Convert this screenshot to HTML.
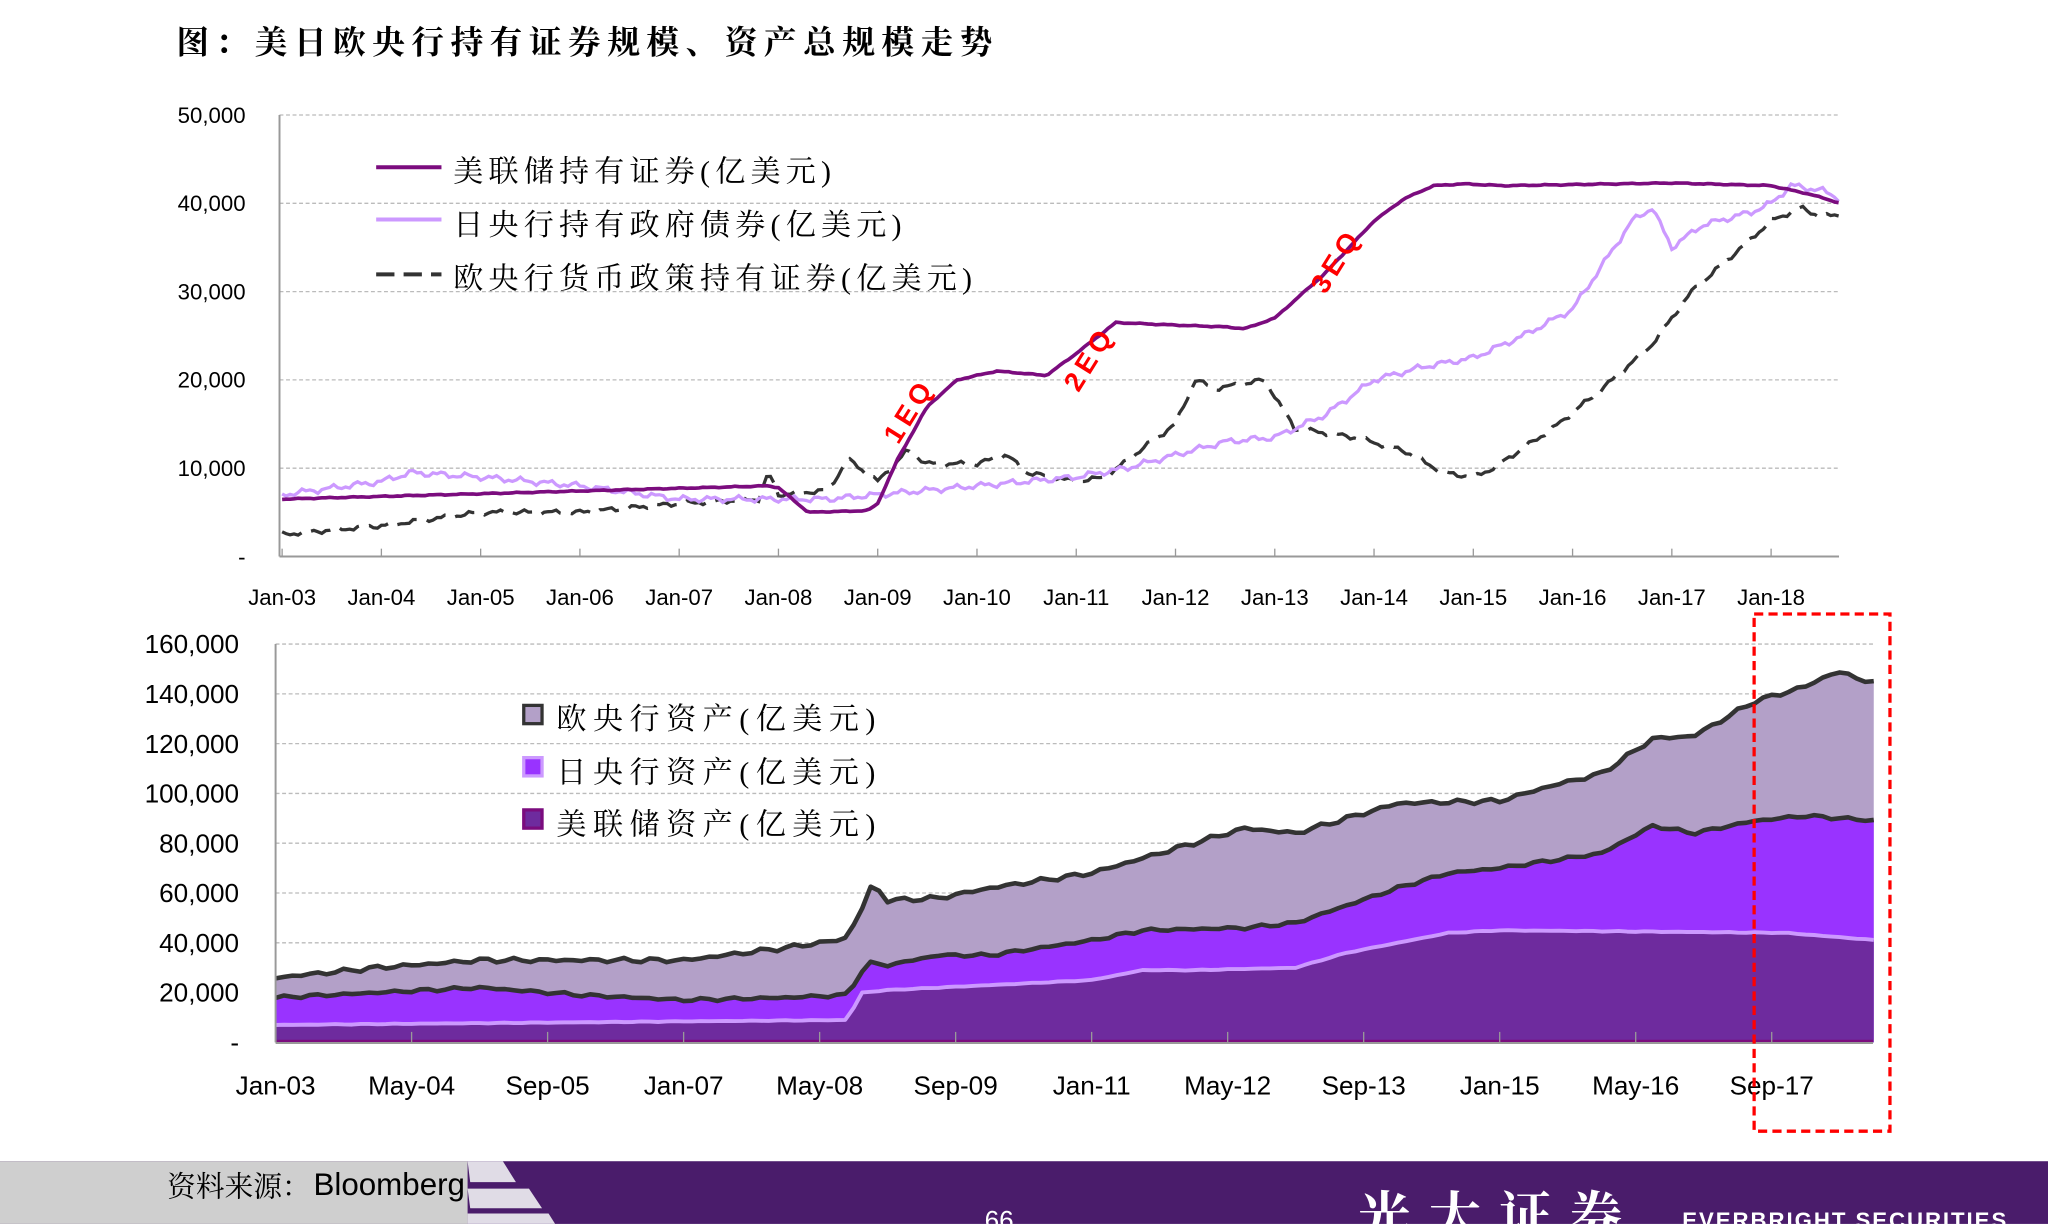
<!DOCTYPE html>
<html><head><meta charset="utf-8"><style>
html,body{margin:0;padding:0;background:#fff;width:2048px;height:1224px;overflow:hidden}
svg{display:block}
.s{font-family:"Liberation Serif","Noto Serif CJK SC",serif}
.a{font-family:"Liberation Sans","Noto Sans CJK SC",sans-serif}
</style></head><body>
<svg id="c" width="2048" height="1224" viewBox="0 0 1568 937" xmlns="http://www.w3.org/2000/svg">
<rect width="1568" height="937" fill="#fff"/>
<text x="135" y="41" class="s" font-size="25" font-weight="bold" fill="#000" letter-spacing="5">图：美日欧央行持有证券规模、资产总规模走势</text>
<g id="top"></g>
<g id="bot"></g>
<!-- legends top -->
<line x1="288" y1="128" x2="338" y2="128" stroke="#7b0c7e" stroke-width="3"/>
<text x="347" y="139" class="s" font-size="23" letter-spacing="4">美联储持有证券(亿美元)</text>
<line x1="288" y1="168" x2="338" y2="168" stroke="#cc99ff" stroke-width="3"/>
<text x="347" y="180" class="s" font-size="23" letter-spacing="4">日央行持有政府债券(亿美元)</text>
<line x1="288" y1="210" x2="338" y2="210" stroke="#333" stroke-width="3" stroke-dasharray="14,7"/>
<text x="347" y="221" class="s" font-size="23" letter-spacing="4">欧央行货币政策持有证券(亿美元)</text>
<!-- QE labels -->
<text transform="translate(702,318) rotate(-58)" text-anchor="middle" class="a" font-size="21" font-weight="bold" fill="#f00" letter-spacing="4">1EQ</text>
<text transform="translate(840,278) rotate(-58)" text-anchor="middle" class="a" font-size="21" font-weight="bold" fill="#f00" letter-spacing="4">2EQ</text>
<text transform="translate(1029,203) rotate(-58)" text-anchor="middle" class="a" font-size="21" font-weight="bold" fill="#f00" letter-spacing="4">3EQ</text>
<!-- legends bottom -->
<rect x="401" y="540" width="14" height="14" fill="#b3a0c8" stroke="#333" stroke-width="2.5"/>
<text x="426" y="558" class="s" font-size="23" letter-spacing="5">欧央行资产(亿美元)</text>
<rect x="401" y="580" width="14" height="14" fill="#9933ff" stroke="#cc99ff" stroke-width="2.5"/>
<text x="426" y="599" class="s" font-size="23" letter-spacing="5">日央行资产(亿美元)</text>
<rect x="401" y="620" width="14" height="14" fill="#6e2b9e" stroke="#7b0c7e" stroke-width="2.5"/>
<text x="426" y="639" class="s" font-size="23" letter-spacing="5">美联储资产(亿美元)</text>
<rect x="1343" y="470" width="104" height="396" fill="none" stroke="#f00" stroke-width="2.5" stroke-dasharray="7,4"/>
<!-- footer -->
<rect x="0" y="889" width="1568" height="48" fill="#4a1c6b"/>
<rect x="0" y="889" width="358" height="48" fill="#cfcfcf"/>
<path d="M358 889 L385 889 L395 905 L360 905 Z M358 910 L405 910 L415 925 L360 925 Z M358 929 L420 929 L425 937 L358 937 Z" fill="#e0dce6"/>
<text x="128" y="916" class="s" font-size="22">资料来源：</text>
<text x="240" y="915" class="a" font-size="24">Bloomberg</text>
<text x="765" y="941" text-anchor="middle" class="a" font-size="20" fill="#fff">66</text>
<text x="1040" y="945" class="s" font-size="40" font-weight="bold" fill="#fff" letter-spacing="14">光大证券</text>
<text x="1288" y="940" class="a" font-size="17" font-weight="bold" fill="#fff" letter-spacing="1.5">EVERBRIGHT SECURITIES</text>
</svg>
<script>
var NS="http://www.w3.org/2000/svg";
function el(p,t,a,txt){var e=document.createElementNS(NS,t);for(var k in a)e.setAttribute(k,a[k]);if(txt!=null)e.textContent=txt;p.appendChild(e);return e;}
function interp(pts,t){for(var i=0;i<pts.length-1;i++){if(t<=pts[i+1][0]){var a=pts[i],b=pts[i+1];return a[1]+(b[1]-a[1])*(t-a[0])/(b[0]-a[0]);}}return pts[pts.length-1][1];}
function wig(t,amp,seed){return amp*(Math.sin(t*23+seed)*0.6+Math.sin(t*57+seed*2)*0.4);}
var T=document.getElementById("top");
var X1=function(t){return 216+76*(t-2003)},Y1=function(v){return 426-v*0.00676};
for(var i=1;i<=5;i++){var y=Y1(i*10000);el(T,"line",{x1:214,x2:1408,y1:y,y2:y,stroke:"#bbb","stroke-width":1,"stroke-dasharray":"3,2"});}
el(T,"line",{x1:214,x2:214,y1:88,y2:426,stroke:"#999","stroke-width":1.5});
el(T,"line",{x1:214,x2:1408,y1:426,y2:426,stroke:"#999","stroke-width":1.5});
var yl=["-","10,000","20,000","30,000","40,000","50,000"];
for(var i=0;i<6;i++)el(T,"text",{x:188,y:Y1(i*10000)+6,"text-anchor":"end","font-size":17,"class":"a"},yl[i]);
for(var yr=3;yr<=18;yr++){var x=X1(2000+yr);el(T,"line",{x1:x,x2:x,y1:420,y2:426,stroke:"#999"});
el(T,"text",{x:x,y:463,"text-anchor":"middle","font-size":17,"class":"a"},"Jan-"+(yr<10?"0":"")+yr);}
var fed=[[2003,6500],[2007.9,8000],[2008.0,7800],[2008.3,5000],[2008.9,5200],[2009,6000],[2009.2,11000],[2009.5,17000],[2009.8,20000],[2010.2,21000],[2010.7,20500],[2011,23000],[2011.4,26500],[2011.8,26300],[2012.5,26000],[2012.7,25800],[2013,27000],[2013.5,32000],[2014,38000],[2014.3,40500],[2014.6,42000],[2014.9,42200],[2015.3,42000],[2017,42300],[2018,42000],[2018.4,41000],[2018.7,40000]];
var boj=[[2003,7000],[2004,8500],[2004.3,9500],[2005,9000],[2006,8000],[2007,6500],[2008.5,6500],[2009,7000],[2010,8000],[2011,9000],[2011.5,10000],[2012,11500],[2012.5,13000],[2013,13500],[2013.5,16000],[2014,20000],[2014.5,21500],[2015,22500],[2015.5,25000],[2016,28000],[2016.3,33000],[2016.6,38000],[2016.8,39500],[2017,35000],[2017.3,37500],[2017.8,39000],[2018,40000],[2018.2,42000],[2018.5,41500],[2018.7,40500]];
var ecb=[[2003,2500],[2004,3500],[2005,5000],[2006,5000],[2007,6000],[2007.8,6500],[2007.9,9500],[2008,7000],[2008.5,7500],[2008.7,11000],[2009,8500],[2009.3,12000],[2009.5,10500],[2010,10500],[2010.3,11500],[2010.5,9500],[2011,8500],[2011.3,9000],[2011.7,12500],[2012,15000],[2012.2,20000],[2012.4,19000],[2012.9,20000],[2013.2,14500],[2013.8,13500],[2014.3,12000],[2014.7,9500],[2015,9000],[2015.2,10000],[2015.8,14500],[2016.3,19000],[2016.8,24000],[2017.2,30000],[2017.7,35000],[2018,38000],[2018.3,39500],[2018.5,38500],[2018.7,38700]];
function line(p,pts,amp,seed,a){var d="";for(var t=2003;t<=2018.7001;t+=0.04){d+=(d?"L":"M")+X1(t).toFixed(1)+" "+Y1(interp(pts,t)+wig(t,amp,seed)).toFixed(1);}a.d=d;a.fill="none";el(p,"path",a);}
line(T,ecb,300,1,{stroke:"#333","stroke-width":2.5,"stroke-dasharray":"16,8"});
line(T,boj,400,2,{stroke:"#cc99ff","stroke-width":2.5});
line(T,fed,60,3,{stroke:"#7b0c7e","stroke-width":2.8});
var B=document.getElementById("bot");
var X2=function(t){return 211+78.1*(t-2003)},Y2=function(v){return 798-v*0.001906};
for(var i=1;i<=8;i++){var y=Y2(i*20000);el(B,"line",{x1:211,x2:1434,y1:y,y2:y,stroke:"#bbb","stroke-width":1,"stroke-dasharray":"3,2"});}
var bl=["-","20,000","40,000","60,000","80,000","100,000","120,000","140,000","160,000"];
for(var i=0;i<9;i++)el(B,"text",{x:183,y:Y2(i*20000)+7,"text-anchor":"end","font-size":20,"class":"a"},bl[i]);
var bx=["Jan-03","May-04","Sep-05","Jan-07","May-08","Sep-09","Jan-11","May-12","Sep-13","Jan-15","May-16","Sep-17"];
var fa=[[2003,7000],[2008.6,9000],[2008.75,20000],[2009,21000],[2010,23000],[2011,25000],[2011.5,29000],[2012,29000],[2013,30000],[2013.5,36000],[2014.5,44000],[2015,45000],[2017.8,44000],[2018.7,41000]];
var ba=[[2003,18000],[2004,20000],[2005,22000],[2006,19000],[2007,17000],[2008,18000],[2008.6,19000],[2008.8,32000],[2009,31000],[2009.5,35000],[2010,35000],[2011,41000],[2011.5,45000],[2012.5,46000],[2013,48000],[2013.5,55000],[2014,62000],[2014.5,68000],[2015,70000],[2016,76000],[2016.5,87000],[2016.9,84000],[2017.5,89000],[2018,91000],[2018.7,89000]];
var ta=[[2003,26000],[2004,30000],[2005,33000],[2007,33000],[2008,38000],[2008.5,41000],[2008.6,42000],[2008.8,58000],[2008.85,64000],[2009,57000],[2009.5,58000],[2010,62000],[2011,68000],[2012,80000],[2012.5,86000],[2013,84000],[2013.5,90000],[2014,96000],[2015,97000],[2015.5,103000],[2016,108000],[2016.5,122000],[2016.9,123000],[2017.5,137000],[2018,143000],[2018.3,149000],[2018.7,144000]];
var END=2018.7;
function pts2(pts,amp,seed){var a=[];for(var t=2003;t<=END+0.0001;t+=1/12){a.push([X2(t),Y2(interp(pts,t)+wig(t,amp,seed))]);}return a;}
var P3=pts2(ta,1000,4),P2=pts2(ba,700,5),P1=pts2(fa,150,6);
function area(P,fill){var d="M"+P[0][0]+" 798";P.forEach(function(p){d+="L"+p[0].toFixed(1)+" "+p[1].toFixed(1)});d+="L"+P[P.length-1][0]+" 798Z";el(B,"path",{d:d,fill:fill});}
function pl(P,c,w){var d="";P.forEach(function(p){d+=(d?"L":"M")+p[0].toFixed(1)+" "+p[1].toFixed(1)});el(B,"path",{d:d,fill:"none",stroke:c,"stroke-width":w,"stroke-linejoin":"round"});}
area(P3,"#b3a0c8");area(P2,"#9933ff");area(P1,"#6e2b9e");
pl(P1,"#cc99ff",3);pl(P2,"#333",3.5);pl(P3,"#333",3.5);
el(B,"line",{x1:211,x2:1434,y1:797,y2:797,stroke:"#7b0c7e","stroke-width":2});
el(B,"line",{x1:211,x2:1434,y1:798.5,y2:798.5,stroke:"#999","stroke-width":1.5});
el(B,"line",{x1:211,x2:211,y1:493,y2:798,stroke:"#999","stroke-width":1.5});
for(var i=0;i<bx.length;i++){var x=X2(2003+i*16/12);el(B,"line",{x1:x,x2:x,y1:790,y2:798,stroke:"#999"});
el(B,"text",{x:x,y:838,"text-anchor":"middle","font-size":20,"class":"a"},bx[i]);}
</script>
</body></html>
